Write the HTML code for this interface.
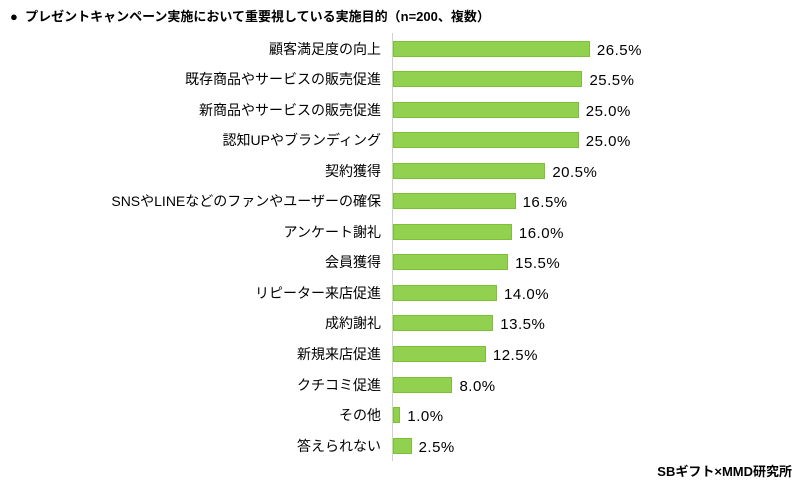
<!DOCTYPE html>
<html><head><meta charset="utf-8"><style>
body{margin:0;background:#fff;width:800px;height:484px;overflow:hidden;position:relative;font-family:"Liberation Sans","Noto Sans CJK JP",sans-serif;color:#000}
.t{position:absolute;left:10px;top:6px;font-size:13px;font-weight:bold;white-space:nowrap}
.l{position:absolute;right:419px;font-size:14px;white-space:nowrap;line-height:18px}
.b{position:absolute;left:393px;height:16px;background:#92d050;box-sizing:border-box;border:1px solid #7cc034}
.v{position:absolute;font-size:15px;line-height:18px;white-space:nowrap;letter-spacing:0.5px}
.ax{position:absolute;left:392px;top:33px;width:1px;height:428px;background:#d0d0d0}
.s{position:absolute;right:8px;top:461px;font-size:13px;font-weight:bold}
</style></head><body>
<div class="t">●&nbsp; プレゼントキャンペーン実施において重要視している実施目的（n=200、複数）</div>
<div class="ax"></div>
<div id="c"></div>
<div class="s">SBギフト×MMD研究所</div>
<script>
var d=[["顧客満足度の向上",26.5],["既存商品やサービスの販売促進",25.5],["新商品やサービスの販売促進",25.0],["認知UPやブランディング",25.0],["契約獲得",20.5],["SNSやLINEなどのファンやユーザーの確保",16.5],["アンケート謝礼",16.0],["会員獲得",15.5],["リピーター来店促進",14.0],["成約謝礼",13.5],["新規来店促進",12.5],["クチコミ促進",8.0],["その他",1.0],["答えられない",2.5]];
var h="";d.forEach(function(r,i){var c=48.5+i*30.55,w=r[1]*7.43;
h+='<div class="l" style="top:'+(c-9)+'px">'+r[0]+'</div><div class="b" style="top:'+(c-8)+'px;width:'+w+'px"></div><div class="v" style="top:'+(c-7)+'px;left:'+(393+w+7)+'px">'+r[1].toFixed(1)+'%</div>';});
document.getElementById("c").innerHTML=h;
</script>
</body></html>
